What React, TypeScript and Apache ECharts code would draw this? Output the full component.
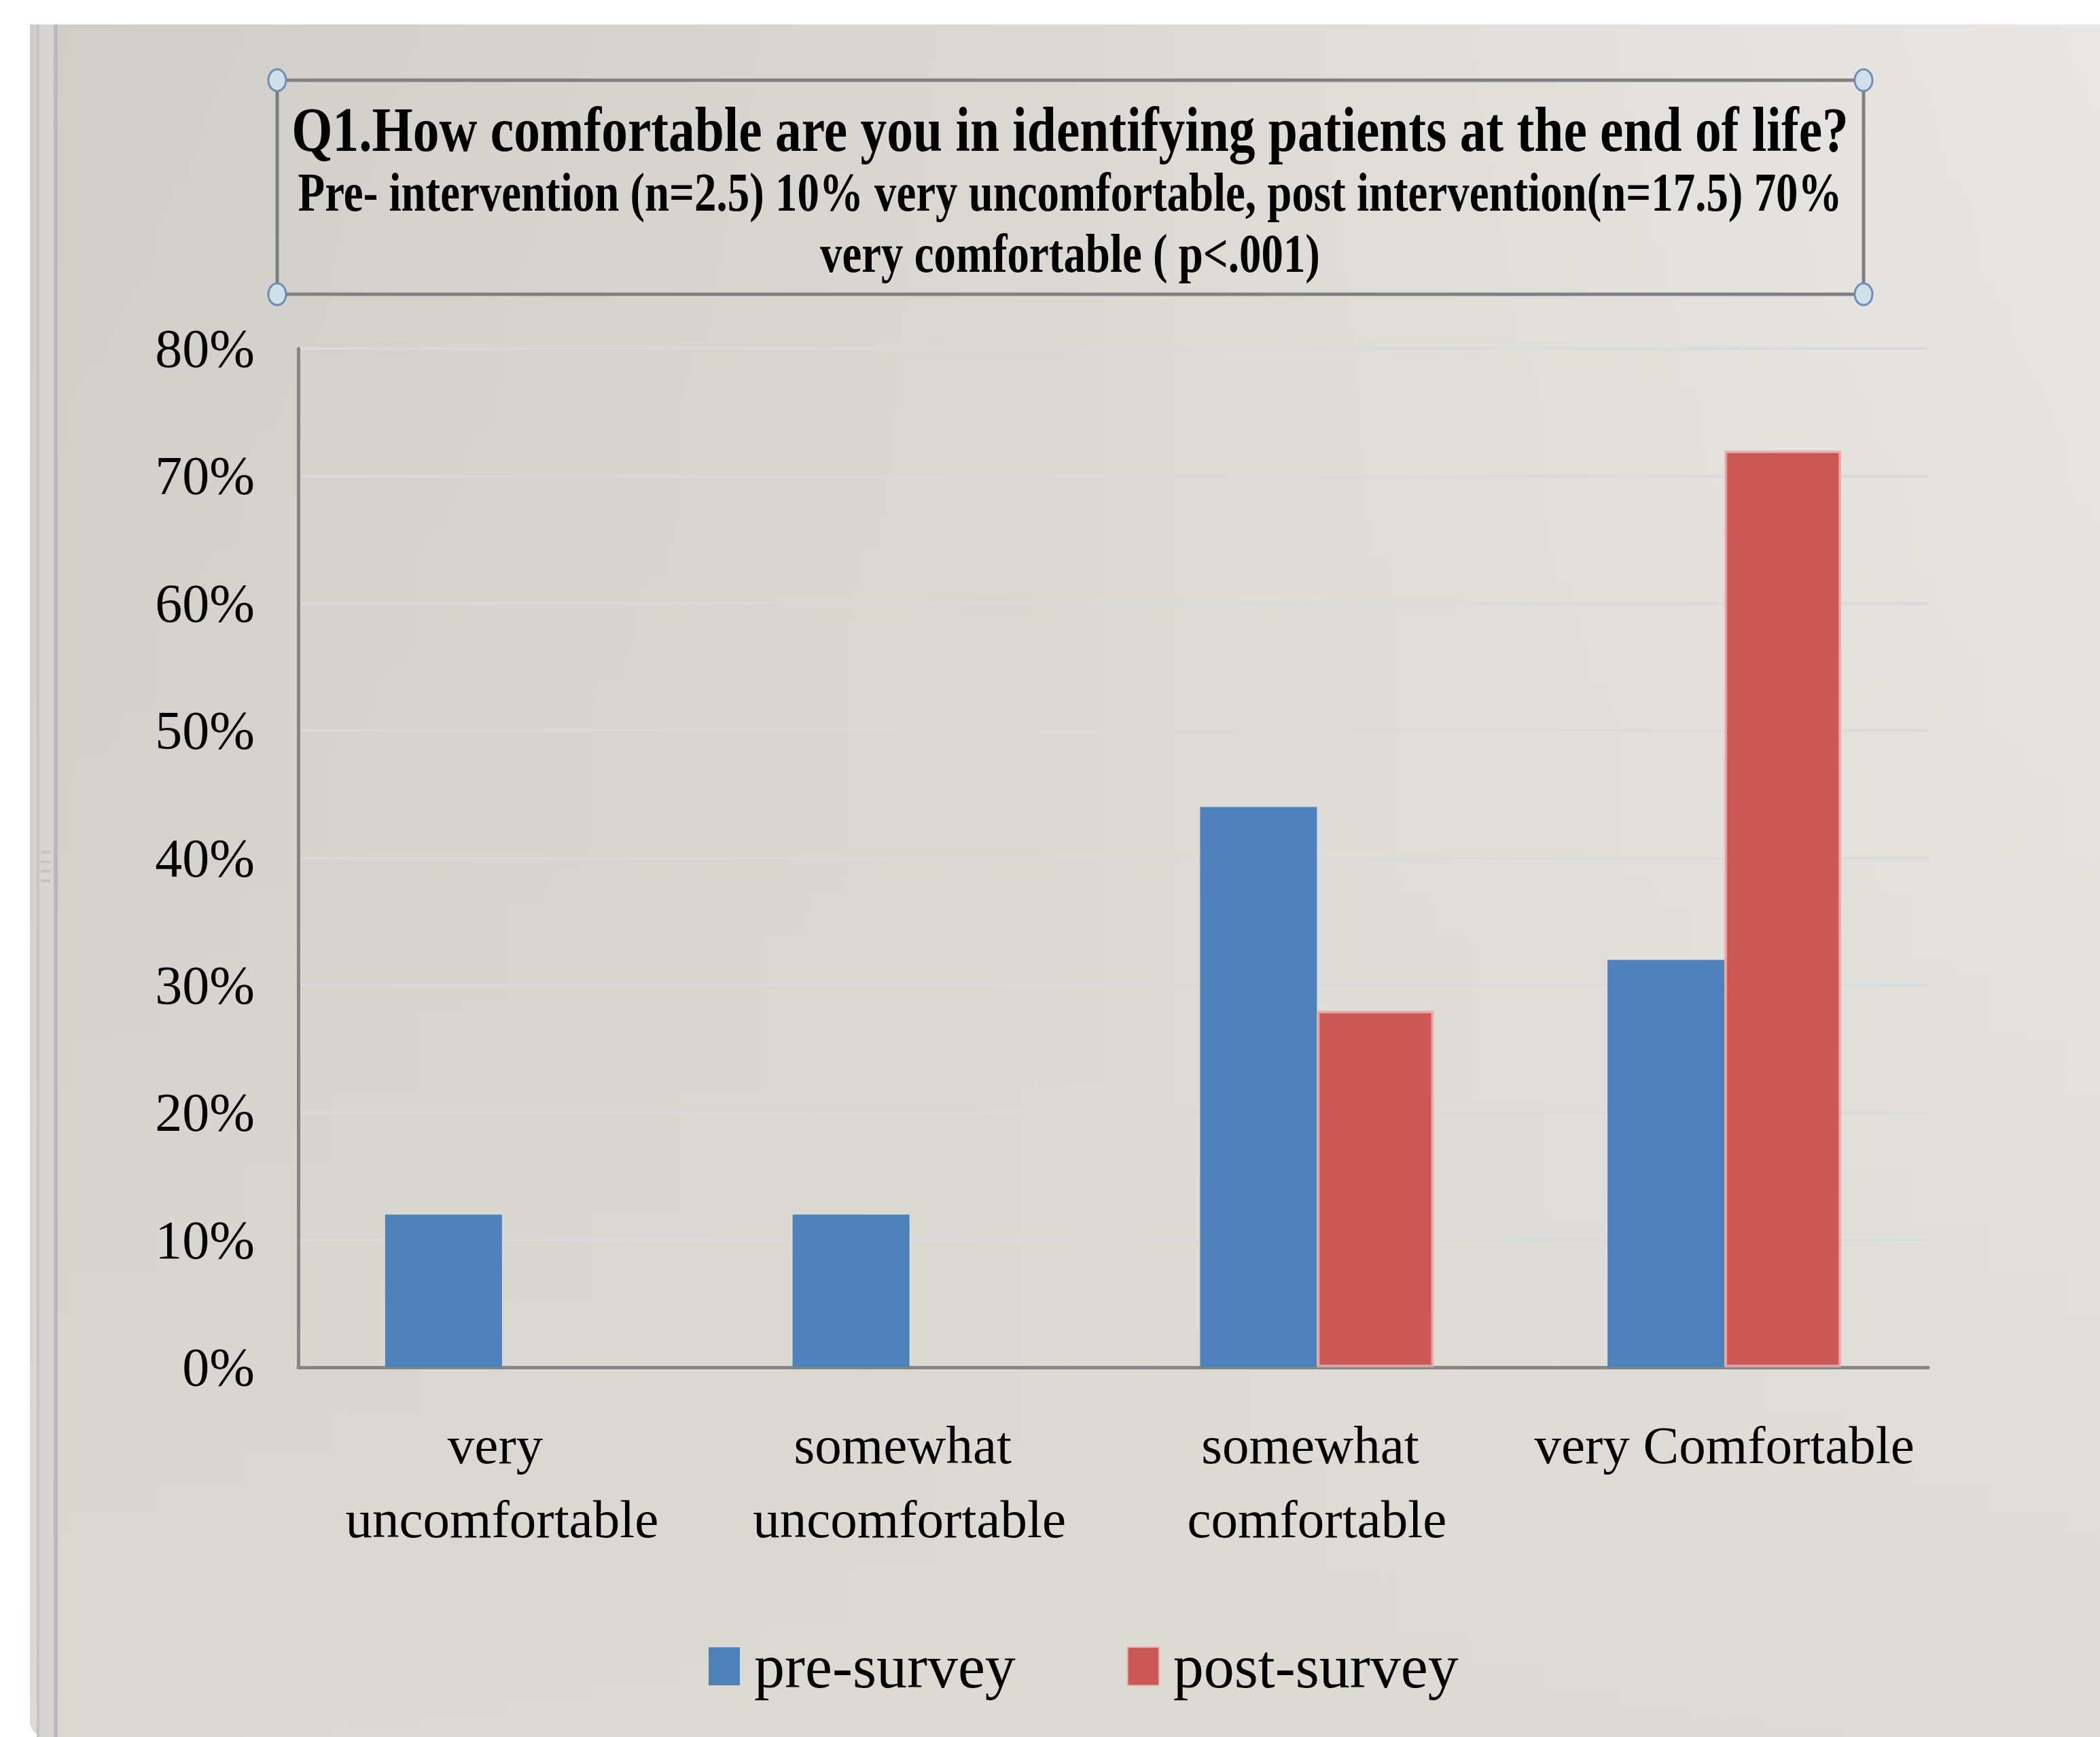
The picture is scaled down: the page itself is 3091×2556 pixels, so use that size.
import React, { useEffect, useRef } from "react";
import * as echarts from "echarts";

const categories = ["very uncomfortable", "somewhat uncomfortable", "somewhat comfortable", "very Comfortable"];
const seriesNames = ["pre-survey", "post-survey"];
const preSurvey = [12, 12, 44, 32];
const postSurvey = [0, 0, 28, 72];
const yTicks = { min: 0, max: 80, interval: 10 };
const titleLines = [
  "Q1.How comfortable are you in identifying patients at the end of life?",
  "Pre- intervention (n=2.5) 10% very uncomfortable, post intervention(n=17.5) 70%",
  "very comfortable ( p<.001)",
];

const W = 3091;
const H = 2556;
const FONT = '"Liberation Serif", "Times New Roman", serif';

function measure(text: string, size: number, weight: string) {
  const c = document.createElement("canvas").getContext("2d");
  if (!c) return text.length * size * 0.45;
  c.font = `${weight} ${size}px ${FONT}`;
  return c.measureText(text).width;
}

export default function App() {
  const ref = useRef<HTMLDivElement>(null);
  useEffect(() => {
    if (!ref.current) return;
    const chart = echarts.init(ref.current, undefined, { renderer: "svg", width: W, height: H });

    const titleSpec = [
      { size: 94, y: 190, width: 2292 },
      { size: 80, y: 283, width: 2274 },
      { size: 80, y: 373, width: 736 },
    ];
    const titleTexts = titleLines.map((t, i) => {
      const s = titleSpec[i];
      const w = measure(t, s.size, "bold");
      return {
        type: "text",
        x: 1575,
        y: s.y,
        scaleX: s.width / w,
        z: 100,
        style: {
          text: t,
          fontSize: s.size,
          fontWeight: "bold",
          fontFamily: FONT,
          fill: "#000",
          align: "center",
          verticalAlign: "middle",
        },
      };
    });

    const handles = [
      [408, 118],
      [2743, 118],
      [408, 433],
      [2743, 433],
    ].map(([cx, cy]) => ({
      type: "ellipse",
      z: 101,
      shape: { cx, cy, rx: 13, ry: 16 },
      style: { fill: "#cfe0ea", stroke: "#6f90b4", lineWidth: 3 },
    }));

    const grip = [1252, 1266, 1280, 1294].map((y) => ({
      type: "rect",
      z: -90,
      shape: { x: 60, y, width: 14, height: 4 },
      style: { fill: "#c2c2c2" },
    }));

    const option = {
      animation: false,
      backgroundColor: "#ffffff",
      graphic: [
        {
          type: "rect",
          z: -100,
          shape: { x: 44, y: 36, width: W - 44, height: H - 36, r: [0, 0, 0, 24] },
          style: {
            fill: new echarts.graphic.LinearGradient(0, 0, 1, 0, [
              { offset: 0, color: "#d0cdc9" },
              { offset: 0.5, color: "#dcd9d4" },
              { offset: 1, color: "#e9e7e4" },
            ]),
          },
        },
        {
          type: "rect",
          z: -99,
          shape: { x: 44, y: 36, width: W - 44, height: H - 36, r: [0, 0, 0, 24] },
          style: {
            fill: new echarts.graphic.LinearGradient(0, 0, 0, 1, [
              { offset: 0, color: "rgba(221,218,212,0)" },
              { offset: 0.5, color: "rgba(221,218,212,0.35)" },
              { offset: 1, color: "rgba(221,218,212,0.95)" },
            ]),
          },
        },
        { type: "rect", z: -95, shape: { x: 54, y: 36, width: 4, height: H - 36 }, style: { fill: "#c4c4c4" } },
        { type: "rect", z: -95, shape: { x: 58, y: 36, width: 21, height: H - 36 }, style: { fill: "#d6d5d3" } },
        { type: "rect", z: -95, shape: { x: 79, y: 36, width: 6, height: H - 36 }, style: { fill: "#b9b9b9" } },
        ...grip,
        {
          type: "rect",
          z: 99,
          shape: { x: 408, y: 118, width: 2335, height: 315 },
          style: { fill: "none", stroke: "#808080", lineWidth: 5 },
        },
        ...handles,
        ...titleTexts,
      ],
      grid: { left: 439, right: W - 2838, top: 513, bottom: H - 2012, containLabel: false },
      legend: {
        data: seriesNames,
        left: 1043,
        top: 2407,
        padding: 0,
        icon: "rect",
        itemWidth: 46,
        itemHeight: 56,
        itemGap: 164,
        textStyle: { fontFamily: FONT, fontSize: 90, color: "#000", padding: [0, 0, 0, 16] },
      },
      xAxis: {
        type: "category",
        data: categories,
        axisLine: { show: true, lineStyle: { color: "#868686", width: 5 } },
        axisTick: { show: false },
        axisLabel: {
          interval: 0,
          margin: 60,
          fontFamily: FONT,
          fontSize: 79,
          lineHeight: 109,
          color: "#000",
          width: 580,
          overflow: "break",
        },
      },
      yAxis: {
        type: "value",
        min: yTicks.min,
        max: yTicks.max,
        interval: yTicks.interval,
        axisLine: { show: true, lineStyle: { color: "#868686", width: 5 } },
        axisTick: { show: false },
        splitLine: { show: true, lineStyle: { color: "#dadada", width: 4 } },
        axisLabel: {
          formatter: "{value}%",
          margin: 64,
          fontFamily: FONT,
          fontSize: 80,
          color: "#000",
        },
      },
      series: [
        {
          name: seriesNames[0],
          type: "bar",
          data: preSurvey,
          barWidth: 172,
          barGap: "0%",
          itemStyle: { color: "#4f81bd" },
        },
        {
          name: seriesNames[1],
          type: "bar",
          data: postSurvey.map((v) => (v === 0 ? { value: v, itemStyle: { borderWidth: 0 } } : v)),
          barWidth: 172,
          barGap: "0%",
          itemStyle: { color: "#cb5855", borderColor: "rgba(232,172,170,0.85)", borderWidth: 4 },
        },
      ],
    };
    chart.setOption(option as any);
    return () => chart.dispose();
  }, []);
  return <div ref={ref} style={{ position: "fixed", left: 0, top: 0, width: W, height: H }} />;
}
